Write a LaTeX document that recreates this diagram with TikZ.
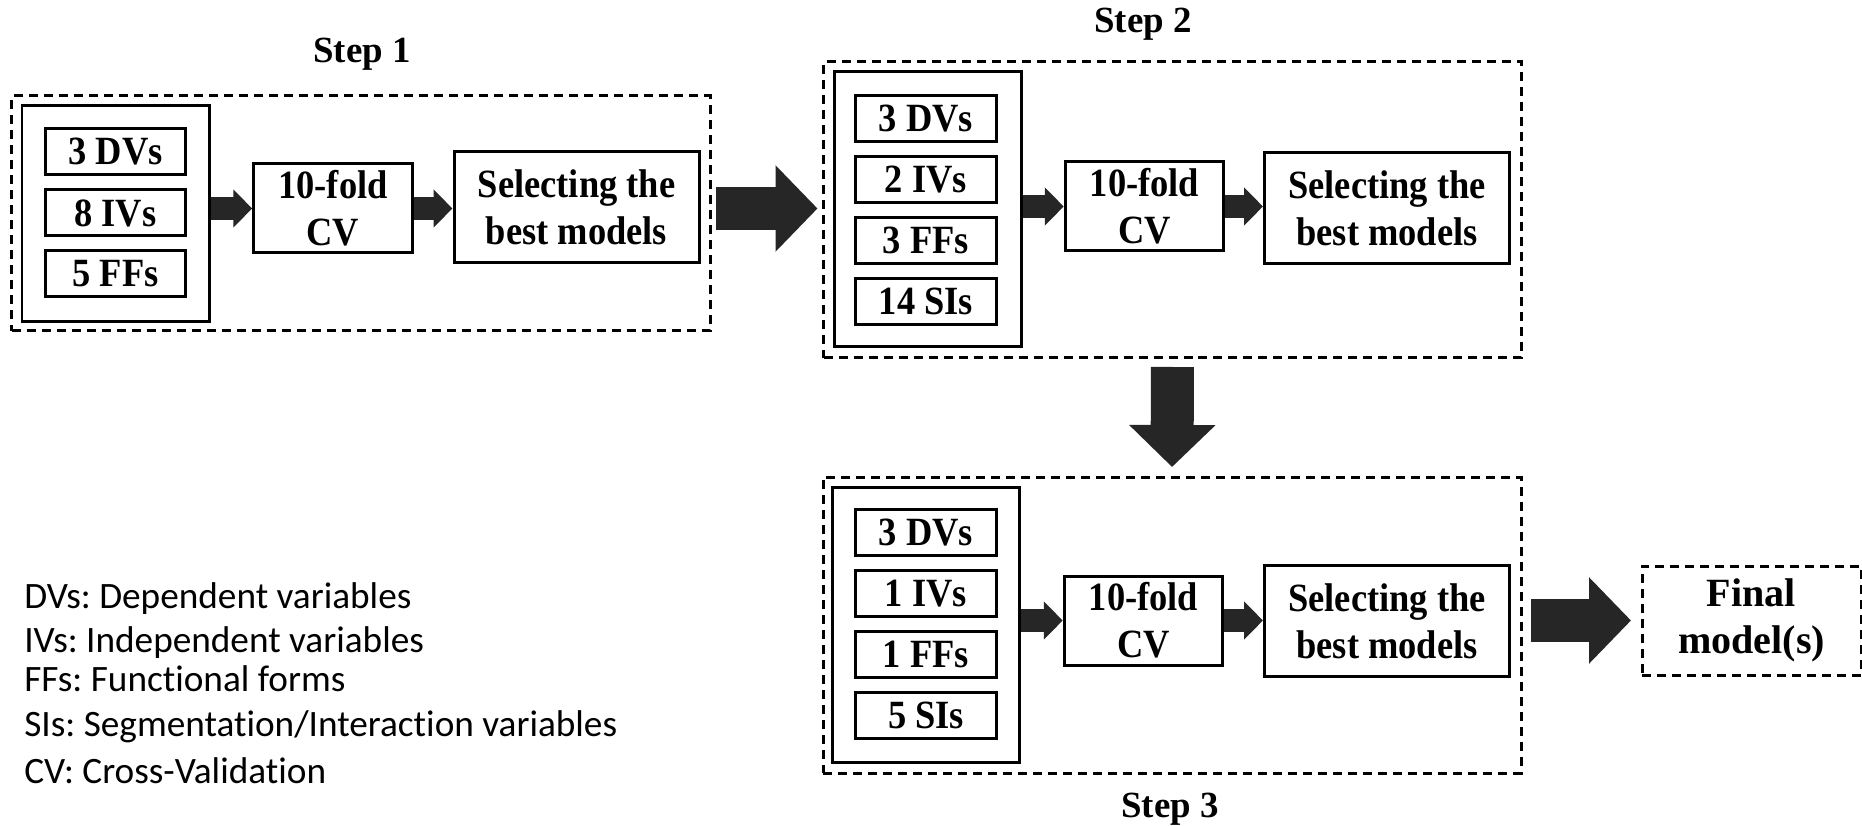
\documentclass[tikz,border=0pt]{standalone}
\usepackage{fontspec}
\setmainfont{Liberation Serif}
\newfontfamily\boxfont[FakeStretch=0.91]{Liberation Serif}
\newfontfamily\legendfont[Ligatures=NoCommon]{Carlito}
\usetikzlibrary{arrows.meta}
\definecolor{arrowgray}{HTML}{262626}
\frenchspacing

\begin{document}
\begin{tikzpicture}[node distance=1.22cm,
  stepbox/.style={draw, line width=0.06cm, dash pattern=on 0.18cm off 0.12cm, minimum width=13.96cm},
  inbox/.style={draw, line width=0.06cm, minimum width=3.74cm},
  varbox/.style={draw, line width=0.06cm, minimum width=2.81cm, minimum height=0.92cm, inner sep=0pt,
    font=\boxfont\bfseries\fontsize{22.8}{26.7}\selectfont},
  cvbox/.style={varbox, minimum width=3.17cm, minimum height=1.78cm, align=center},
  selbox/.style={varbox, minimum width=4.90cm, minimum height=2.22cm, align=center},
  finalbox/.style={draw, line width=0.06cm, dash pattern=on 0.18cm off 0.12cm, minimum width=4.38cm,
    minimum height=2.18cm, align=center, font=\bfseries\fontsize{22.8}{26.7}\selectfont},
  steplabel/.style={anchor=base, font=\bfseries\fontsize{21}{25}\selectfont},
  legend/.style={anchor=base west, inner sep=0pt, font=\legendfont\fontsize{21.2}{25}\selectfont},
  bigarrow/.style={draw=arrowgray, line width=0.86cm, -{Triangle[length=0.84cm, width=1.68cm]}},
  smallarrow/.style={draw=arrowgray, line width=0.46cm, -{Triangle[length=0.38cm, width=0.74cm]}}]
\useasboundingbox (0,0) rectangle (37.24,-16.52);

% Step 1
\node[steplabel] (t1) at (7.24,-1.26) {Step 1};
\node[stepbox, minimum height=4.70cm] (s1box) at (7.22,-4.27) {};
\node[inbox, minimum height=4.32cm] (s1in) at (2.31,-4.28) {};
\node[varbox] (s1dv) at (2.31,-3.04) {3 DVs};
\node[varbox] (s1iv) [below of=s1dv] {8 IVs};
\node[varbox] (s1ff) [below of=s1iv] {5 FFs};
\node[cvbox] (s1cv) at (6.66,-4.17) {10-fold\\CV};
\node[selbox] (s1sel) at (11.53,-4.14) {Selecting the\\best models};

% Step 2
\node[steplabel] (t2) at (22.86,-0.66) {Step 2};
\node[stepbox, minimum height=5.92cm] (s2box) at (23.45,-4.20) {};
\node[inbox, minimum height=5.50cm] (s2in) at (18.55,-4.19) {};
\node[varbox] (s2dv) at (18.52,-2.37) {3 DVs};
\node[varbox] (s2iv) [below of=s2dv] {2 IVs};
\node[varbox] (s2ff) [below of=s2iv] {3 FFs};
\node[varbox] (s2si) [below of=s2ff] {14 SIs};
\node[cvbox] (s2cv) at (22.89,-4.13) {10-fold\\CV};
\node[selbox] (s2sel) at (27.74,-4.16) {Selecting the\\best models};

% Step 3
\node[stepbox, minimum height=5.92cm] (s3box) at (23.44,-12.50) {};
\node[inbox, minimum height=5.50cm] (s3in) at (18.52,-12.49) {};
\node[varbox] (s3dv) at (18.52,-10.65) {3 DVs};
\node[varbox] (s3iv) [below of=s3dv] {1 IVs};
\node[varbox] (s3ff) [below of=s3iv] {1 FFs};
\node[varbox] (s3si) [below of=s3ff] {5 SIs};
\node[cvbox] (s3cv) at (22.87,-12.41) {10-fold\\CV};
\node[selbox] (s3sel) at (27.74,-12.42) {Selecting the\\best models};
\node[steplabel] (t3) at (23.40,-16.34) {Step 3};

\node[finalbox] (final) at (35.03,-12.41) {Final\\model(s)};

% legend
\node[legend] (l1) at (0.48,-12.16) {DVs: Dependent variables};
\node[legend] (l2) at (0.48,-13.04) {IVs: Independent variables};
\node[legend] (l3) at (0.48,-13.82) {FFs: Functional forms};
\node[legend] (l4) at (0.48,-14.72) {SIs: Segmentation/Interaction variables};
\node[legend] (l5) at (0.48,-15.66) {CV: Cross-Validation};

\draw[smallarrow] (s1in.east |- s1cv) -- (s1cv.west);
\draw[smallarrow] (s1cv.east) -- (s1sel.west |- s1cv);
\draw[smallarrow] (s2in.east |- s2cv) -- (s2cv.west);
\draw[smallarrow] (s2cv.east) -- (s2sel.west |- s2cv);
\draw[smallarrow] (s3in.east |- s3cv) -- (s3cv.west);
\draw[smallarrow] (s3cv.east) -- (s3sel.west |- s3cv);

\draw[bigarrow, shorten <=0.09cm, shorten >=0.09cm] (s1box.east |- s1cv) -- (s2box.west |- s1cv);
\draw[bigarrow, shorten <=0.15cm, shorten >=0.17cm] (s2box.south) -- (s3box.north);
\draw[bigarrow, shorten <=0.17cm, shorten >=0.19cm] (s3box.east |- final) -- (final.west);
\end{tikzpicture}
\end{document}
